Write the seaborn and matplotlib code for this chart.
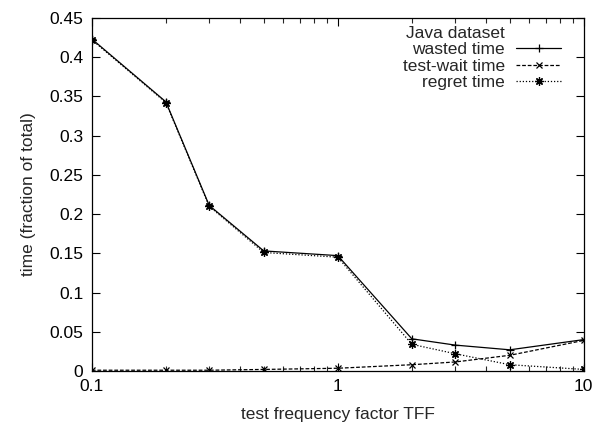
import matplotlib
matplotlib.use("Agg")
import matplotlib.pyplot as plt
from matplotlib.lines import Line2D
from matplotlib.ticker import FixedLocator, FuncFormatter, LogLocator, NullFormatter
import seaborn as sns
import pandas as pd

tff = [0.1, 0.2, 0.3, 0.5, 1, 2, 3, 5, 10]
wasted = [0.423, 0.343, 0.211, 0.153, 0.147, 0.041, 0.033, 0.027, 0.040]
test_wait = [0.001, 0.001, 0.001, 0.002, 0.0035, 0.008, 0.0115, 0.020, 0.039]
regret = [0.422, 0.342, 0.210, 0.151, 0.145, 0.034, 0.022, 0.008, 0.002]
series_names = ["wasted time", "test-wait time", "regret time"]
y_ticks = [0, 0.05, 0.1, 0.15, 0.2, 0.25, 0.3, 0.35, 0.4, 0.45]
x_ticks = [0.1, 1, 10]

sns.set_style("ticks")
plt.rcParams['font.family'] = ['Liberation Sans', 'DejaVu Sans']

df = pd.DataFrame({
    "tff": tff * 3,
    "value": wasted + test_wait + regret,
    "series": [series_names[0]] * len(tff) + [series_names[1]] * len(tff) + [series_names[2]] * len(tff),
})

fig = plt.figure(figsize=(6.0, 4.24), dpi=100)
ax = fig.add_axes([0.153, 0.125, 0.820, 0.833])

styles = {
    "wasted time": dict(linestyle="-", marker="+", ms=6),
    "test-wait time": dict(linestyle=(0, (3, 1.5)), marker="x", ms=4.5),
    "regret time": dict(linestyle=(0, (1, 1.5)), marker=(8, 2, 0), ms=6),
}
for name in series_names:
    sub = df[df["series"] == name]
    st = styles[name]
    sns.lineplot(data=sub, x="tff", y="value", ax=ax, color="black", lw=0.9,
                 linestyle=st["linestyle"], marker=st["marker"], markersize=st["ms"],
                 markeredgewidth=0.9, markeredgecolor="black", label=name)

ax.set_xscale("log")
ax.set_xlim(0.1, 10)
ax.set_ylim(0, 0.45)
ax.xaxis.set_major_locator(FixedLocator(x_ticks))
ax.xaxis.set_major_formatter(FuncFormatter(lambda v, p: "%g" % v))
ax.xaxis.set_minor_locator(LogLocator(base=10, subs=range(2, 10)))
ax.xaxis.set_minor_formatter(NullFormatter())
ax.yaxis.set_major_locator(FixedLocator(y_ticks))
ax.yaxis.set_major_formatter(FuncFormatter(lambda v, p: "%g" % v))

fs = 12.5
ax.tick_params(axis="both", which="major", direction="in", length=6, width=0.8,
               top=True, right=True, labelsize=fs, pad=6, colors="black")
ax.tick_params(axis="x", which="minor", direction="in", length=3.5, width=0.8, top=True, bottom=True)
for s in ax.spines.values():
    s.set_linewidth(0.9)
    s.set_color("black")

ax.set_xlabel("test frequency factor TFF", fontsize=fs, labelpad=9)
ax.set_ylabel("time (fraction of total)", fontsize=fs, labelpad=10)

handles, labels = ax.get_legend_handles_labels()
blank = Line2D([], [], linestyle="none")
leg = ax.legend([blank] + handles, ["Java dataset"] + labels, loc="upper right",
                frameon=False, markerfirst=False, fontsize=fs, handlelength=2.6,
                handletextpad=0.65, labelspacing=0.08, borderaxespad=0.2,
                bbox_to_anchor=(0.975, 1.008))

fig.savefig("out.png", dpi=100)
